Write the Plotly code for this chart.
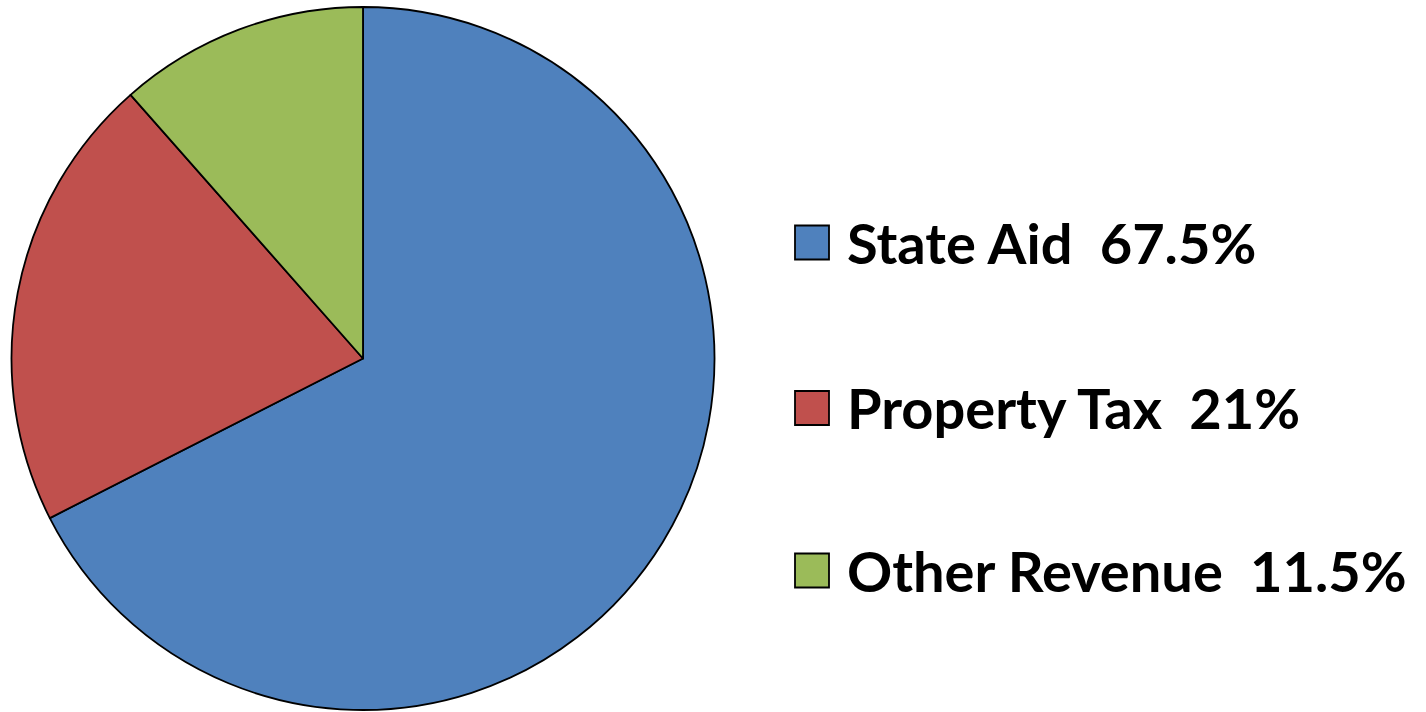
import plotly.graph_objects as go

labels = ["State Aid", "Property Tax", "Other Revenue"]
values = [67.5, 21, 11.5]
legend_text = ["State Aid  67.5%", "Property Tax  21%", "Other Revenue  11.5%"]
colors = ["#4F81BD", "#C0504D", "#9BBB59"]

W, H = 1426, 712

fig = go.Figure()
fig.add_trace(go.Pie(
    labels=labels, values=values, sort=False, direction="clockwise", rotation=0,
    marker=dict(colors=colors, line=dict(color="black", width=1.8)),
    textinfo="none", hoverinfo="label+percent", showlegend=False,
    domain=dict(x=[11 / W, 715 / W], y=[(H - 710) / H, (H - 7) / H]),
))

row_y = [242.5, 408, 570.5]
for t, c, yc in zip(legend_text, colors, row_y):
    fig.add_shape(type="rect", xref="paper", yref="paper",
                  x0=795 / W, x1=829 / W, y0=1 - (yc + 17) / H, y1=1 - (yc - 17) / H,
                  fillcolor=c, line=dict(color="black", width=1.8))
    fig.add_annotation(xref="paper", yref="paper", x=845 / W, y=1 - yc / H,
                       xanchor="left", yanchor="middle", showarrow=False,
                       text="<b>" + t + "</b>",
                       font=dict(family="Lato", size=56, color="black"))

fig.update_layout(width=W, height=H, margin=dict(l=0, r=0, t=0, b=0),
                  paper_bgcolor="white", plot_bgcolor="white")
fig.write_html("out.html", config={"displayModeBar": False},
               post_script="document.body.style.margin='0';document.body.style.overflow='hidden';")
